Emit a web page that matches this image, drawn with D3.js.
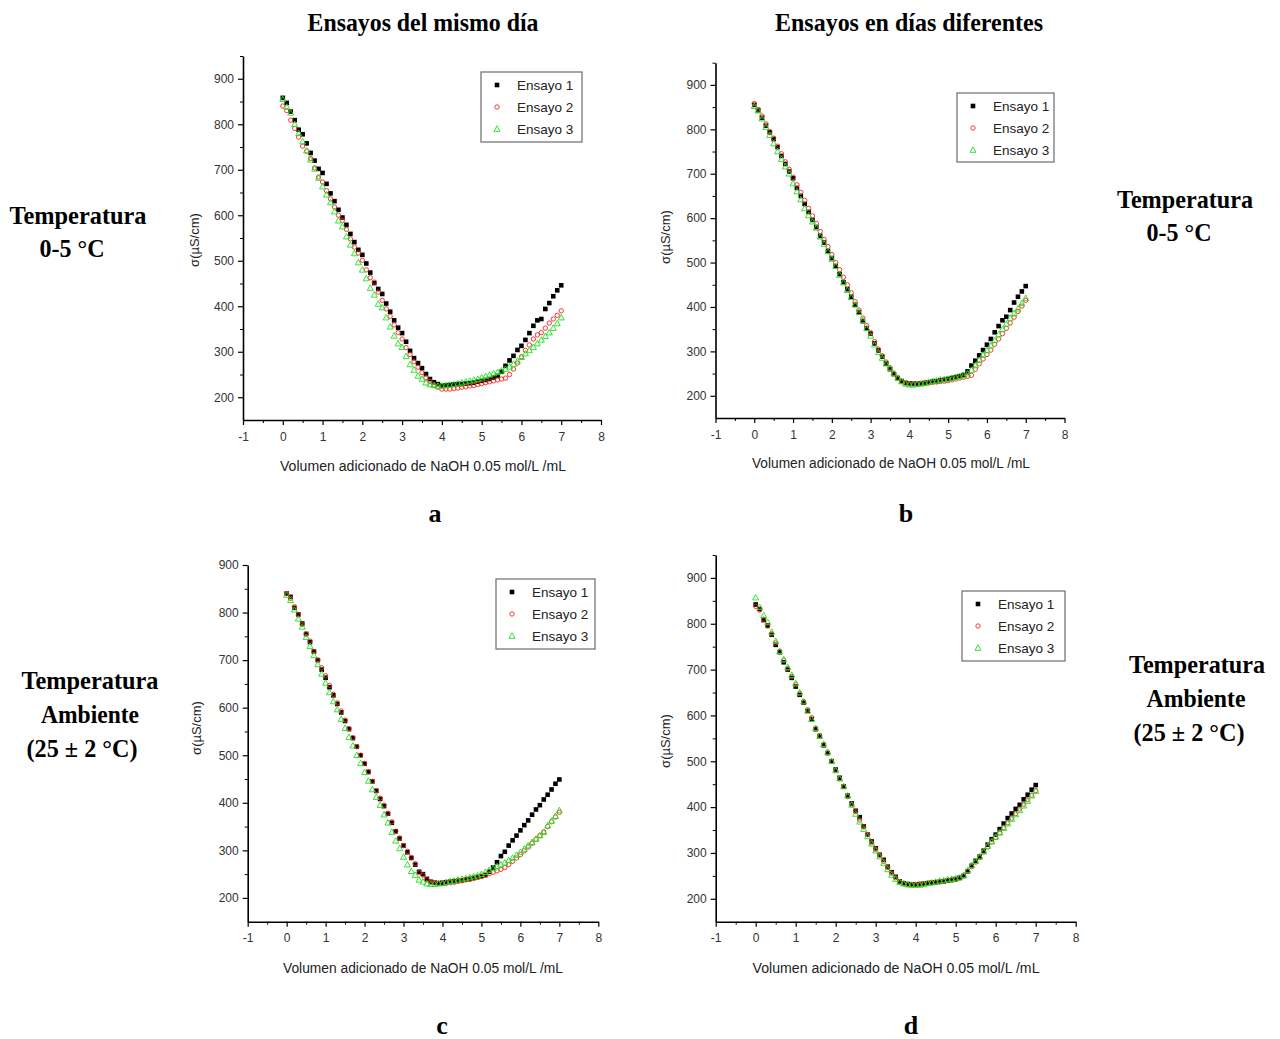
<!DOCTYPE html>
<html lang="es">
<head>
    <meta charset="UTF-8">
    <title>Conductividad vs volumen de NaOH</title>
    <script src="https://d3js.org/d3.v7.min.js"></script>
    <style>
        body { margin: 0; background: #fff; }
    </style>
</head>
<body>

    <svg id="svg" width=1280 height=1039></svg>

    <script>
        // volumen adicionado (mL)
        const volumen = [
            0.0, 0.1, 0.2, 0.3, 0.4, 0.5, 0.6, 0.7, 0.8, 0.9,
            1.0, 1.1, 1.2, 1.3, 1.4, 1.5, 1.6, 1.7, 1.8, 1.9,
            2.0, 2.1, 2.2, 2.3, 2.4, 2.5, 2.6, 2.7, 2.8, 2.9,
            3.0, 3.1, 3.2, 3.3, 3.4, 3.5, 3.6, 3.7, 3.8, 3.9,
            4.0, 4.1, 4.2, 4.3, 4.4, 4.5, 4.6, 4.7, 4.8, 4.9,
            5.0, 5.1, 5.2, 5.3, 5.4, 5.5, 5.6, 5.7, 5.8, 5.9,
            6.0, 6.1, 6.2, 6.3, 6.4, 6.5, 6.6, 6.7, 6.8, 6.9, 7.0
        ];

        const series = ["Ensayo 1", "Ensayo 2", "Ensayo 3"];
        const xTicks = [-1, 0, 1, 2, 3, 4, 5, 6, 7, 8];
        const xMinor = [-0.5, 0.5, 1.5, 2.5, 3.5, 4.5, 5.5, 6.5, 7.5];
        const yTicks = [200, 300, 400, 500, 600, 700, 800, 900];
        const yMinor = [250, 350, 450, 550, 650, 750, 850, 950];

        // a: mismo dia, 0-5 C
        const a1 = [
            858, 847, 828, 809, 788, 778, 758, 737, 720, 702,
            693, 669, 648, 631, 612, 595, 579, 559, 541, 524,
            513, 494, 474, 451, 438, 427, 406, 388, 369, 353,
            341, 322, 302, 286, 275, 264, 251, 240, 233, 229,
            225, 226, 227, 228, 229, 229, 230, 231, 232, 234,
            236, 238, 240, 243, 247, 256, 269, 281, 291, 304,
            313, 326, 341, 357, 369, 372, 394, 407, 422, 435, 446
        ];
        const a2 = [
            840, 830, 809, 791, 772, 752, 741, 725, 704, 684,
            673, 654, 636, 618, 600, 589, 569, 548, 530, 517,
            501, 480, 463, 453, 431, 413, 394, 378, 359, 342,
            328, 309, 294, 278, 266, 254, 243, 235, 227, 222,
            218, 218, 218, 219, 220, 222, 223, 225, 226, 228,
            230, 232, 234, 236, 238, 240, 242, 250, 262, 275,
            289, 303, 315, 328, 337, 342, 352, 363, 372, 380, 390
        ];
        const a3 = [
            855, 838, 825, 800, 780, 762, 742, 722, 702, 682,
            663, 645, 628, 608, 588, 575, 553, 535, 516, 496,
            480, 461, 440, 425, 405, 397, 375, 355, 335, 318,
            310, 290, 272, 260, 247, 240, 232, 228, 226, 225,
            225, 226, 227, 228, 230, 232, 234, 236, 238, 240,
            243, 246, 249, 252, 255, 258, 262, 267, 273, 280,
            288, 296, 303, 310, 318, 326, 334, 342, 352, 362, 375
        ];

        // b: dias diferentes, 0-5 C
        const b1 = [
            855, 843, 826, 808, 793, 778, 760, 740, 722, 705,
            690, 668, 650, 632, 614, 596, 580, 560, 545, 526,
            510, 492, 474, 456, 440, 423, 405, 388, 368, 352,
            340, 318, 302, 288, 273, 260, 249, 240, 233, 229,
            228, 227, 227, 228, 229, 230, 232, 233, 235, 236,
            238, 240, 242, 244, 247, 255, 268, 279, 291, 303,
            315, 328, 343, 357, 370, 378, 393, 410, 423, 435, 447
        ];
        const b2 = [
            858, 845, 830, 812, 795, 780, 762, 745, 727, 710,
            692, 675, 658, 640, 622, 605, 588, 570, 552, 536,
            518, 500, 484, 467, 450, 432, 412, 393, 375, 358,
            342, 322, 305, 290, 276, 263, 250, 240, 233, 229,
            227, 227, 227, 228, 228, 229, 230, 231, 232, 233,
            234, 236, 238, 240, 242, 244, 246, 260, 272, 283,
            293, 303, 316, 328, 340, 352, 364, 377, 390, 402, 415
        ];
        const b3 = [
            852, 842, 824, 805, 787, 768, 750, 733, 716, 700,
            678, 660, 642, 622, 606, 592, 578, 558, 542, 525,
            508, 492, 472, 455, 438, 422, 405, 388, 370, 352,
            335, 315, 298, 285, 272, 262, 250, 240, 232, 227,
            225, 225, 226, 227, 229, 231, 233, 234, 236, 237,
            238, 240, 242, 244, 246, 250, 258, 268, 280, 292,
            302, 313, 325, 338, 350, 362, 375, 385, 396, 408, 420
        ];

        // c: mismo dia, ambiente
        const c1 = [
            840, 833, 810, 796, 777, 755, 738, 718, 700, 680,
            663, 643, 626, 608, 590, 572, 555, 536, 518, 500,
            482, 465, 445, 425, 408, 393, 377, 358, 340, 325,
            310, 296, 284, 270, 255, 250, 240, 234, 232, 231,
            232, 233, 234, 235, 236, 237, 239, 240, 242, 244,
            246, 248, 255, 264, 275, 288, 297, 310, 321, 331,
            342, 353, 363, 375, 386, 395, 407, 417, 428, 440, 449
        ];
        const c2 = [
            840, 830, 812, 795, 775, 755, 740, 718, 700, 684,
            667, 647, 628, 610, 593, 574, 556, 537, 518, 500,
            483, 465, 445, 426, 410, 395, 378, 360, 340, 326,
            310, 298, 285, 272, 253, 248, 238, 233, 232, 231,
            230, 231, 232, 233, 235, 236, 238, 239, 241, 243,
            245, 248, 251, 254, 257, 260, 264, 270, 277, 284,
            291, 299, 307, 315, 323, 331, 339, 350, 360, 370, 380
        ];
        const c3 = [
            837, 826, 806, 787, 770, 748, 729, 710, 691, 671,
            652, 632, 613, 596, 576, 557, 538, 520, 500, 483,
            464, 446, 428, 412, 395, 375, 358, 338, 320, 304,
            286, 270, 256, 248, 238, 234, 230, 229, 229, 230,
            231, 233, 235, 236, 238, 240, 241, 243, 245, 247,
            250, 254, 258, 262, 266, 270, 274, 279, 284, 290,
            296, 303, 310, 317, 324, 331, 338, 352, 362, 372, 384
        ];

        // d: dias diferentes, ambiente
        const d1 = [
            842, 832, 808, 796, 776, 754, 738, 716, 700, 682,
            663, 645, 628, 610, 592, 570, 555, 535, 518, 500,
            482, 464, 445, 425, 408, 392, 378, 358, 340, 325,
            310, 296, 285, 270, 258, 248, 238, 234, 232, 231,
            231, 232, 233, 234, 235, 236, 237, 238, 240, 241,
            243, 246, 250, 260, 272, 283, 292, 305, 318, 330,
            340, 352, 364, 376, 386, 396, 405, 417, 427, 438, 448
        ];
        const d2 = [
            838, 830, 810, 795, 778, 758, 740, 720, 702, 685,
            667, 648, 630, 612, 595, 572, 556, 537, 518, 500,
            480, 462, 445, 423, 405, 390, 372, 357, 340, 322,
            308, 295, 282, 268, 256, 246, 237, 233, 231, 231,
            231, 232, 233, 234, 235, 236, 237, 238, 240, 241,
            242, 245, 250, 260, 270, 280, 290, 302, 313, 324,
            334, 344, 355, 366, 376, 386, 396, 406, 416, 426, 436
        ];
        const d3s = [
            857, 836, 818, 803, 782, 762, 740, 722, 705, 688,
            670, 650, 630, 610, 592, 572, 555, 537, 520, 500,
            480, 462, 445, 425, 405, 385, 368, 352, 336, 320,
            305, 292, 278, 264, 252, 243, 236, 233, 231, 230,
            230, 230, 232, 234, 235, 237, 239, 240, 242, 243,
            244, 246, 251, 262, 273, 282, 292, 303, 315, 325,
            335, 344, 354, 364, 374, 384, 393, 403, 413, 425, 435
        ];

        let svg = d3.select('svg');

        svg.append('rect')
            .attr('width', 1280)
            .attr('height', 1039)
            .attr('fill', '#fff');

        const colors = ['#000', '#ff2020', '#20e020'];

        // marker painters
        function marker(g, kind, cx, cy) {
            if (kind === 0) {
                g.append('rect')
                    .attr('x', cx - 2.3).attr('y', cy - 2.3)
                    .attr('width', 4.6).attr('height', 4.6)
                    .attr('fill', colors[0]);
            } else if (kind === 1) {
                g.append('circle')
                    .attr('cx', cx).attr('cy', cy).attr('r', 2.2)
                    .attr('fill', 'none')
                    .attr('stroke', colors[1])
                    .attr('stroke-width', 0.9);
            } else {
                g.append('path')
                    .attr('d', `M${cx},${cy - 3.2}L${cx + 3},${cy + 2.3}L${cx - 3},${cy + 2.3}Z`)
                    .attr('fill', 'none')
                    .attr('stroke', colors[2])
                    .attr('stroke-width', 0.9);
            }
        }

        const panels = [
            { data: [a1, a2, a3], x0: 243, x1: 601, y0: 420, y1: 56, yMax: 950,
              legend: [481, 72, 101, 70], xlab: [423, 471, 286], ylab: [199, 240] },
            { data: [b1, b2, b3], x0: 715.5, x1: 1064.5, y0: 418, y1: 62.7, yMax: 950,
              legend: [957, 93, 97, 69], xlab: [891, 468, 278], ylab: [670, 237] },
            { data: [c1, c2, c3], x0: 247.7, x1: 598.3, y0: 921.7, y1: 565, yMax: 900,
              legend: [496, 579, 99, 70], xlab: [423, 973, 280], ylab: [201, 728] },
            { data: [d1, d2, d3s], x0: 715.7, x1: 1075.7, y0: 921.7, y1: 555, yMax: 950,
              legend: [962, 591, 103, 70], xlab: [896, 973, 287], ylab: [670, 741] }
        ];

        panels.forEach(p => drawPanel(p));

        function drawPanel(p) {
            let x = d3.scaleLinear().domain([-1, 8]).range([p.x0, p.x1]);
            let y = d3.scaleLinear().domain([150, p.yMax]).range([p.y0, p.y1]);

            let g = svg.append('g');

            // minor ticks
            g.append('g')
                .attr('transform', `translate(0,${p.y0})`)
                .call(d3.axisBottom(x).tickValues(xMinor).tickSize(3).tickSizeOuter(0).tickFormat(''))
                .call(a => a.select('.domain').remove());
            g.append('g')
                .attr('transform', `translate(${p.x0},0)`)
                .call(d3.axisLeft(y).tickValues(yMinor.filter(v => v <= p.yMax)).tickSize(3).tickSizeOuter(0).tickFormat(''))
                .call(a => a.select('.domain').remove());

            let xa = g.append('g')
                .attr('transform', `translate(0,${p.y0})`)
                .call(d3.axisBottom(x).tickValues(xTicks).tickSize(5).tickSizeOuter(0)
                    .tickPadding(7).tickFormat(d => String(d)));
            let ya = g.append('g')
                .attr('transform', `translate(${p.x0},0)`)
                .call(d3.axisLeft(y).tickValues(yTicks).tickSize(5).tickSizeOuter(0)
                    .tickPadding(4).tickFormat(d => String(d)));

            [xa, ya].forEach(a => {
                a.select('.domain').attr('stroke-width', 1.6);
                a.selectAll('.tick line').attr('stroke-width', 1.2);
                a.selectAll('.tick text')
                    .attr('font-family', 'Liberation Sans, Arial, sans-serif')
                    .attr('font-size', 12)
                    .attr('fill', '#333');
            });
            g.selectAll('.tick line').attr('stroke', '#000');

            // series markers
            p.data.forEach((vals, k) => {
                let s = g.append('g');
                vals.forEach((v, i) => marker(s, k, x(volumen[i]), y(v)));
            });

            // legend
            let [lx, ly, lw, lh] = p.legend;
            g.append('rect')
                .attr('x', lx).attr('y', ly)
                .attr('width', lw).attr('height', lh)
                .attr('fill', '#fff')
                .attr('stroke', '#777')
                .attr('stroke-width', 1.3);
            series.forEach((name, k) => {
                let cy = ly + 13 + k * 22;
                marker(g, k, lx + 16, cy);
                g.append('text')
                    .attr('x', lx + 36).attr('y', cy + 5)
                    .attr('font-family', 'Liberation Sans, Arial, sans-serif')
                    .attr('font-size', 13.5)
                    .attr('fill', '#222')
                    .text(name);
            });

            // axis titles
            g.append('text')
                .attr('x', p.xlab[0]).attr('y', p.xlab[1])
                .attr('text-anchor', 'middle')
                .attr('font-family', 'Liberation Sans, Arial, sans-serif')
                .attr('font-size', 14)
                .attr('fill', '#222')
                .attr('textLength', p.xlab[2])
                .attr('lengthAdjust', 'spacingAndGlyphs')
                .text('Volumen adicionado de NaOH 0.05 mol/L /mL');
            g.append('text')
                .attr('transform', `translate(${p.ylab[0]},${p.ylab[1]}) rotate(-90)`)
                .attr('text-anchor', 'middle')
                .attr('font-family', 'Liberation Sans, Arial, sans-serif')
                .attr('font-size', 13)
                .attr('fill', '#222')
                .text('σ(µS/cm)');
        }

        // headings and row labels
        const labels = [
            { t: 'Ensayos del mismo día', x: 423, y: 31, w: 231 },
            { t: 'Ensayos en días diferentes', x: 909, y: 31, w: 268 },
            { t: 'Temperatura', x: 78, y: 224, w: 137 },
            { t: '0-5 °C', x: 72, y: 257, w: 65 },
            { t: 'Temperatura', x: 1185, y: 208, w: 136 },
            { t: '0-5 °C', x: 1179, y: 241, w: 65 },
            { t: 'Temperatura', x: 90, y: 689, w: 137 },
            { t: 'Ambiente', x: 90, y: 723, w: 98 },
            { t: '(25 ± 2 °C)', x: 82, y: 757, w: 111 },
            { t: 'Temperatura', x: 1197, y: 673, w: 136 },
            { t: 'Ambiente', x: 1196, y: 707, w: 99 },
            { t: '(25 ± 2 °C)', x: 1189, y: 741, w: 111 },
            { t: 'a', x: 435, y: 522 },
            { t: 'b', x: 906, y: 522 },
            { t: 'c', x: 442, y: 1034 },
            { t: 'd', x: 911, y: 1034 }
        ];

        labels.forEach(l => {
            let t = svg.append('text')
                .attr('x', l.x).attr('y', l.y)
                .attr('text-anchor', 'middle')
                .attr('font-family', 'Liberation Serif, Times New Roman, serif')
                .attr('font-weight', 'bold')
                .attr('font-size', 26)
                .attr('fill', '#000')
                .text(l.t);
            if (l.w) {
                t.attr('textLength', l.w).attr('lengthAdjust', 'spacingAndGlyphs');
            }
        });
    </script>

</body>
</html>
